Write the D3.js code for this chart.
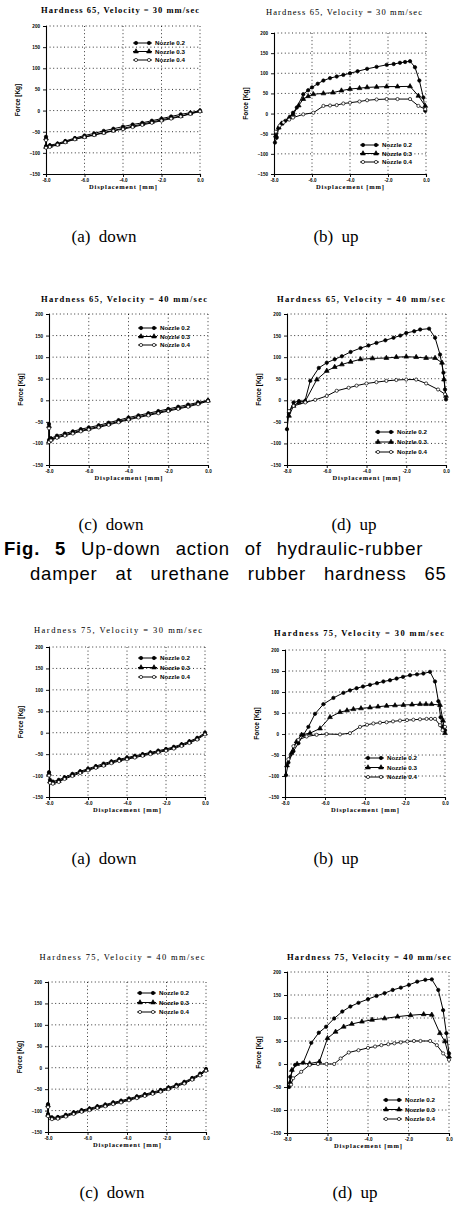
<!DOCTYPE html>
<html><head><meta charset="utf-8">
<script src="https://cdn.jsdelivr.net/npm/d3@7/dist/d3.min.js"></script>
<style>
html,body{margin:0;padding:0;background:#fff;}
svg{display:block;}
</style></head>
<body>
<svg id="c" width="454" height="1206"></svg>
<script>
// ---------------- DATA ----------------
const xTicks = [-8, -6, -4, -2, 0];
const xTickLabels = ["-8.0", "-6.0", "-4.0", "-2.0", "0.0"];
const yTicks = [200, 150, 100, 50, 0, -50, -100, -150];
const legendLabels = ["Nozzle 0.2", "Nozzle 0.3", "Nozzle 0.4"];
const titles = [
  "Hardness 65, Velocity = 30 mm/sec", "Hardness 65, Velocity = 30 mm/sec",
  "Hardness 65, Velocity = 40 mm/sec", "Hardness 65, Velocity = 40 mm/sec",
  "Hardness 75, Velocity = 30 mm/sec", "Hardness 75, Velocity = 30 mm/sec",
  "Hardness 75, Velocity = 40 mm/sec", "Hardness 75, Velocity = 40 mm/sec"
];
const captions = ["(a) down", "(b) up", "(c) down", "(d) up", "(a) down", "(b) up", "(c) down", "(d) up"];
const figLines = ["Up-down action of hydraulic-rubber", "damper at urethane rubber hardness 65"];
const figLabel = "Fig. 5";

// Panel 1: H65 V30 down
const p1n02 = [[-8,-62],[-8,-84],[-7.8,-82],[-7.4,-78],[-7,-72],[-6.5,-65],[-6,-59],[-5.5,-54],[-5,-48],[-4.5,-43],[-4,-38],[-3.5,-33],[-3,-29],[-2.5,-24],[-2,-19],[-1.5,-14],[-1,-9],[-0.5,-5],[0,0]];
const p1n03 = [[-8,-66],[-8,-86],[-7.8,-84],[-7.4,-80],[-7,-74],[-6.5,-67],[-6,-62],[-5.5,-57],[-5,-52],[-4.5,-47],[-4,-42],[-3.5,-37],[-3,-32],[-2.5,-27],[-2,-22],[-1.5,-17],[-1,-13],[-0.5,-7],[0,-1]];
const p1n04 = [[-8,-70],[-8,-88],[-7.8,-86],[-7.4,-81],[-7,-75],[-6.5,-68],[-6,-63],[-5.5,-58],[-5,-53],[-4.5,-48],[-4,-44],[-3.5,-39],[-3,-34],[-2.5,-29],[-2,-24],[-1.5,-19],[-1,-14],[-0.5,-8],[0,-2]];
// Panel 2: H65 V30 up
const p2n02 = [[-7.95,-72],[-7.86,-60],[-7.75,-35],[-7.6,-25],[-7.4,-18],[-7,2],[-6.8,15],[-6.46,48],[-6.2,58],[-6,65],[-5.7,74],[-5.4,82],[-5.05,88],[-4.7,92],[-4.35,96],[-4,100],[-3.6,105],[-3.1,111],[-2.6,116],[-2.07,121],[-1.7,123],[-1.37,126],[-1.1,128],[-0.84,130],[-0.58,115],[-0.35,82],[-0.14,40],[-0.04,7]];
const p2n03 = [[-7.9,-55],[-7.75,-35],[-7.6,-25],[-7.2,-10],[-7,-2],[-6.7,20],[-6.46,36],[-6.2,43],[-5.93,48],[-5.4,50],[-4.9,52],[-4.45,57],[-4,61],[-3.5,63],[-3.1,65],[-2.6,66],[-2.07,67],[-1.5,67],[-0.84,67.5],[-0.4,44],[-0.04,19]];
const p2n04 = [[-7.9,-45],[-7.7,-30],[-7.5,-22],[-7.2,-15],[-7,-10],[-6.46,-2],[-5.93,2],[-5.4,19],[-5.05,20],[-4.7,21],[-4.35,25],[-4,27],[-3.5,30],[-3.1,33],[-2.6,35],[-2.07,36],[-1.5,36],[-0.84,36],[-0.4,19],[-0.04,11]];
// Panel 3: H65 V40 down
const p3n02 = [[-8,-55],[-8,-92],[-7.9,-88],[-7.6,-82],[-7.2,-77],[-6.8,-72],[-6.4,-67],[-6,-63],[-5.5,-58],[-5,-52],[-4.5,-46],[-4,-40],[-3.5,-35],[-3,-30],[-2.5,-25],[-2,-20],[-1.5,-15],[-1,-10],[-0.5,-5],[0,0]];
const p3n03 = [[-8,-60],[-8,-95],[-7.9,-91],[-7.6,-85],[-7.2,-80],[-6.8,-75],[-6.4,-70],[-6,-66],[-5.5,-61],[-5,-55],[-4.5,-49],[-4,-43],[-3.5,-38],[-3,-33],[-2.5,-28],[-2,-23],[-1.5,-18],[-1,-13],[-0.5,-7],[0,-1]];
const p3n04 = [[-8,-65],[-8,-97],[-7.9,-93],[-7.6,-87],[-7.2,-82],[-6.8,-77],[-6.4,-72],[-6,-68],[-5.5,-63],[-5,-57],[-4.5,-51],[-4,-45],[-3.5,-40],[-3,-35],[-2.5,-30],[-2,-25],[-1.5,-20],[-1,-15],[-0.5,-9],[0,-2]];
// Panel 4: H65 V40 up
const p4n02 = [[-8,-67],[-7.9,-28],[-7.67,-5],[-7.4,-2],[-7.1,-2],[-6.83,45],[-6.4,75],[-6,87],[-5.6,95],[-5.24,102],[-4.8,112],[-4.3,121],[-3.9,127],[-3.5,133],[-3.05,139],[-2.64,145],[-2.3,150],[-2,156],[-1.6,160],[-1.3,164],[-0.85,166],[-0.55,145],[-0.3,106],[-0.13,64],[-0.05,25],[0,2]];
const p4n03 = [[-7.9,-36],[-7.67,-13],[-7.4,-5],[-7.08,-2],[-6.5,48],[-6,68],[-5.6,77],[-5.24,83],[-4.8,89],[-4.3,95],[-3.7,97],[-3,98],[-2.5,100],[-2,101],[-1.5,100],[-1,98],[-0.55,98],[-0.2,87],[-0.1,48],[0,10]];
const p4n04 = [[-7.9,-25],[-7.67,-13],[-7.08,-5],[-6.58,1],[-6,10],[-5.5,22],[-4.9,29],[-4.5,34],[-4,39],[-3.5,42],[-3,45],[-2.5,47],[-2,48],[-1.5,48],[-1,39],[-0.4,25],[-0.05,14]];
// Panel 5: H75 V30 down
const p5n02 = [[-8,-92],[-7.95,-110],[-7.8,-114],[-7.5,-110],[-7.2,-104],[-6.8,-96],[-6.4,-90],[-6,-84],[-5.6,-78],[-5.2,-72],[-4.8,-67],[-4.4,-62],[-4,-58],[-3.6,-54],[-3.2,-50],[-2.8,-46],[-2.4,-42],[-2,-38],[-1.6,-33],[-1.2,-27],[-0.8,-20],[-0.4,-12],[0,0]];
const p5n03 = [[-8,-96],[-7.95,-114],[-7.8,-117],[-7.5,-113],[-7.2,-106],[-6.8,-99],[-6.4,-92],[-6,-86],[-5.6,-80],[-5.2,-75],[-4.8,-69],[-4.4,-64],[-4,-60],[-3.6,-56],[-3.2,-52],[-2.8,-48],[-2.4,-44],[-2,-40],[-1.6,-35],[-1.2,-29],[-0.8,-22],[-0.4,-14],[0,-2]];
const p5n04 = [[-8,-100],[-7.95,-117],[-7.8,-119],[-7.5,-115],[-7.2,-108],[-6.8,-101],[-6.4,-94],[-6,-88],[-5.6,-82],[-5.2,-77],[-4.8,-71],[-4.4,-66],[-4,-62],[-3.6,-58],[-3.2,-54],[-2.8,-50],[-2.4,-46],[-2,-42],[-1.6,-37],[-1.2,-31],[-0.8,-24],[-0.4,-16],[0,-4]];
// Panel 6: H75 V30 up
const p6n02 = [[-7.95,-98],[-7.83,-68],[-7.58,-41],[-7.33,-22],[-7.08,-2],[-6.83,17],[-6.5,48],[-6.08,71],[-5.58,86],[-5.08,98],[-4.75,104],[-4.42,109],[-4.1,113],[-3.75,117],[-3.4,121],[-3.08,125],[-2.75,128],[-2.42,132],[-2.1,136],[-1.75,140],[-1.4,142],[-1.08,144],[-0.75,148],[-0.5,125],[-0.33,78],[-0.22,40],[-0.12,17],[0,9]];
const p6n03 = [[-7.9,-75],[-7.67,-45],[-7.42,-18],[-7.17,-2],[-6.75,2],[-6.25,13],[-5.75,40],[-5.25,52],[-4.9,56],[-4.58,59],[-4.2,61],[-3.75,63],[-3.35,65],[-2.92,67],[-2.5,68],[-2.08,69],[-1.65,70],[-1.25,71],[-0.95,71],[-0.67,71],[-0.25,69],[-0.1,32],[0,2]];
const p6n04 = [[-7.83,-60],[-7.58,-29],[-7.33,-14],[-6.92,-6],[-6.42,-2],[-5.92,0],[-5.25,-1],[-4.75,2],[-4.25,17],[-3.9,22],[-3.58,25],[-3.25,27],[-2.92,28],[-2.6,30],[-2.25,32],[-1.9,33],[-1.58,34],[-1.25,35],[-0.92,36],[-0.7,36],[-0.5,36],[-0.25,21],[-0.12,9],[0,17]];
// Panel 7: H75 V40 down
const p7n02 = [[-8,-85],[-8,-108],[-7.8,-116],[-7.5,-115],[-7.1,-110],[-6.7,-104],[-6.3,-99],[-5.9,-95],[-5.5,-90],[-5.1,-86],[-4.7,-81],[-4.3,-77],[-3.9,-72],[-3.5,-67],[-3.1,-62],[-2.7,-57],[-2.3,-52],[-1.9,-46],[-1.5,-40],[-1.1,-33],[-0.7,-24],[-0.3,-14],[0,-3]];
const p7n03 = [[-8,-88],[-8,-110],[-7.8,-118],[-7.5,-117],[-7.1,-112],[-6.7,-106],[-6.3,-101],[-5.9,-97],[-5.5,-92],[-5.1,-88],[-4.7,-83],[-4.3,-79],[-3.9,-74],[-3.5,-69],[-3.1,-64],[-2.7,-59],[-2.3,-54],[-1.9,-48],[-1.5,-42],[-1.1,-35],[-0.7,-26],[-0.3,-16],[0,-5]];
const p7n04 = [[-8,-92],[-8,-113],[-7.8,-120],[-7.5,-119],[-7.1,-114],[-6.7,-108],[-6.3,-103],[-5.9,-99],[-5.5,-94],[-5.1,-90],[-4.7,-85],[-4.3,-81],[-3.9,-76],[-3.5,-71],[-3.1,-66],[-2.7,-61],[-2.3,-56],[-1.9,-50],[-1.5,-44],[-1.1,-37],[-0.7,-28],[-0.3,-18],[0,-7]];
// Panel 8: H75 V40 up
const p8n02 = [[-7.9,-50],[-7.84,-28],[-7.6,-2],[-7.2,3],[-6.8,46],[-6.43,68],[-6.07,81],[-5.67,99],[-5.27,114],[-4.87,125],[-4.47,133],[-4,141],[-3.58,148],[-3.18,154],[-2.78,161],[-2.38,166],[-1.98,172],[-1.57,179],[-1.17,183],[-0.85,184],[-0.53,161],[-0.29,117],[-0.13,67],[0,23]];
const p8n03 = [[-7.85,-40],[-7.76,-13],[-7.5,0],[-6.88,1],[-6.4,5],[-6,56],[-5.6,70],[-5.2,81],[-4.8,87],[-4.3,92],[-3.8,96],[-3.18,99],[-2.54,103],[-1.9,106],[-1.25,108],[-0.85,107],[-0.45,67],[-0.2,49],[0,16]];
const p8n04 = [[-7.8,-45],[-7.7,-31],[-7.3,-17],[-6.88,-2],[-6.47,0],[-6.05,0],[-5.67,0],[-5.35,12],[-4.95,25],[-4.47,30],[-4,35],[-3.65,38],[-3.34,41],[-3,43],[-2.7,45],[-2.38,47],[-2.06,49],[-1.73,50],[-1.41,50],[-0.93,50],[-0.6,41],[-0.29,23],[0,9]];

const panelSeries = [
  [p1n02, p1n03, p1n04], [p2n02, p2n03, p2n04],
  [p3n02, p3n03, p3n04], [p4n02, p4n03, p4n04],
  [p5n02, p5n03, p5n04], [p6n02, p6n03, p6n04],
  [p7n02, p7n03, p7n04], [p8n02, p8n03, p8n04]
];

// ---------------- LAYOUT ----------------
const layout = [
  {x0:46, x1:200, y0:26, y1:174, ty:13, tx:120, tw:158, bold:true, leg:[133,43,8.5]},
  {x0:274,x1:426, y0:33, y1:174, ty:15, tx:344, tw:156, bold:false, leg:[360,145,8.5]},
  {x0:49, x1:208, y0:314,y1:465, ty:302,tx:124, tw:166, bold:true, leg:[138,328,8.5]},
  {x0:287,x1:446, y0:314,y1:465, ty:302,tx:361, tw:168, bold:true, leg:[375,432,10]},
  {x0:49, x1:205, y0:647,y1:797, ty:633,tx:118, tw:168, bold:false, leg:[138,658,9.5]},
  {x0:285,x1:445, y0:650,y1:797, ty:636,tx:359, tw:170, bold:true, leg:[365,758,9.5]},
  {x0:48, x1:206, y0:982,y1:1132,ty:960,tx:122, tw:165, bold:false, leg:[137,993,9.5]},
  {x0:287,x1:449, y0:972,y1:1133,ty:960,tx:369, tw:164, bold:true, leg:[383,1100,9.5]}
];
const capPos = [[104,242],[336,242],[111,530],[354,530],[104,864],[336,864],[112,1198],[355,1198]];

const svg = d3.select("#c");
const symbols = [d3.symbolCircle, d3.symbolTriangle, d3.symbolCircle];
const symSize = [9, 10, 8];
const symFill = ["#000", "#000", "#fff"];

function drawPanel(i) {
  const L = layout[i];
  const g = svg.append("g");
  const x = d3.scaleLinear().domain([-8, 0]).range([L.x0, L.x1]);
  const y = d3.scaleLinear().domain([-150, 200]).range([L.y1, L.y0]);

  g.selectAll(".gy").data(yTicks.filter(v => v > -150)).enter().append("line")
    .attr("x1", L.x0).attr("x2", L.x1).attr("y1", d => y(d)).attr("y2", d => y(d))
    .attr("stroke", "#000").attr("stroke-width", 0.8).attr("stroke-dasharray", "1,2.6");
  g.selectAll(".gx").data(xTicks.filter(v => v > -8)).enter().append("line")
    .attr("y1", L.y0).attr("y2", L.y1).attr("x1", d => x(d)).attr("x2", d => x(d))
    .attr("stroke", "#000").attr("stroke-width", 0.8).attr("stroke-dasharray", "1,2.6");

  const ya = d3.axisLeft(y).tickValues(yTicks).tickSize(3).tickFormat(d3.format("d"));
  const yMinor = d3.axisLeft(y).tickValues(d3.range(-150, 201, 25)).tickSize(1.5).tickFormat("");
  const xa = d3.axisBottom(x).tickValues(xTicks).tickSize(3).tickFormat((d, k) => xTickLabels[k]);
  const xMinor = d3.axisBottom(x).tickValues(d3.range(-8, 0.01, 1)).tickSize(1.5).tickFormat("");
  const ag = g.append("g").attr("transform", `translate(${L.x0},0)`);
  ag.call(yMinor); ag.call(ya);
  const bg = g.append("g").attr("transform", `translate(0,${L.y1})`);
  bg.call(xMinor); bg.call(xa);
  [ag, bg].forEach(a => {
    a.selectAll("path").attr("stroke", "#000").attr("stroke-width", 1.1);
    a.selectAll("line").attr("stroke", "#000").attr("stroke-width", 0.9);
    a.selectAll("text").attr("font-family", "Liberation Sans, Arial, sans-serif")
      .attr("font-size", 4.6).attr("font-weight", "bold").attr("fill", "#000");
  });
  ag.selectAll("text").attr("x", -6);
  bg.selectAll("text").attr("y", 5);

  const line = d3.line().x(d => x(d[0])).y(d => y(d[1]));
  panelSeries[i].forEach((s, k) => {
    g.append("path").datum(s).attr("d", line).attr("fill", "none")
      .attr("stroke", "#000").attr("stroke-width", 1);
    g.selectAll(null).data(s).enter().append("path")
      .attr("transform", d => `translate(${x(d[0])},${y(d[1])})`)
      .attr("d", d3.symbol().type(symbols[k]).size(symSize[k]))
      .attr("fill", symFill[k]).attr("stroke", "#000").attr("stroke-width", 0.7);
  });

  const [lx, ly, lh] = L.leg;
  legendLabels.forEach((lab, k) => {
    const yy = ly + k * lh;
    g.append("line").attr("x1", lx).attr("x2", lx + 19).attr("y1", yy).attr("y2", yy)
      .attr("stroke", "#000").attr("stroke-width", 1);
    [lx + 3, lx + 16].forEach(px => g.append("path")
      .attr("transform", `translate(${px},${yy})`)
      .attr("d", d3.symbol().type(symbols[k]).size(symSize[k]))
      .attr("fill", symFill[k]).attr("stroke", "#000").attr("stroke-width", 0.7));
    g.append("text").attr("x", lx + 22).attr("y", yy + 2.2).text(lab)
      .attr("font-family", "Liberation Sans, Arial, sans-serif").attr("font-weight", "bold")
      .attr("font-size", 6.2).attr("fill", "#000");
  });

  g.append("text").attr("x", L.tx).attr("y", L.ty).attr("text-anchor", "middle")
    .attr("font-family", "Liberation Serif, Times New Roman, serif")
    .attr("font-weight", L.bold ? "bold" : "normal").attr("font-size", 8.5)
    .attr("textLength", L.tw).attr("lengthAdjust", "spacing").text(titles[i]);
  g.append("text").attr("x", (L.x0 + L.x1) / 2).attr("y", L.y1 + 15).attr("text-anchor", "middle")
    .attr("font-family", "Liberation Serif, Times New Roman, serif").attr("font-weight", "bold")
    .attr("font-size", 6.5).attr("textLength", 68).attr("lengthAdjust", "spacing")
    .text("Displacement [mm]");
  g.append("text").attr("transform", `translate(${L.x0 - 26},${(L.y0 + L.y1) / 2}) rotate(-90)`)
    .attr("text-anchor", "middle").attr("font-family", "Liberation Sans, Arial, sans-serif")
    .attr("font-weight", "bold").attr("font-size", 6.5).text("Force [Kg]");

  svg.append("text").attr("x", capPos[i][0]).attr("y", capPos[i][1]).attr("text-anchor", "middle")
    .attr("font-family", "Liberation Serif, Times New Roman, serif").attr("font-size", 17)
    .attr("word-spacing", 4).text(captions[i]);
}
for (let i = 0; i < 8; i++) drawPanel(i);

// figure caption
const f1 = svg.append("text").attr("x", 4).attr("y", 555)
  .attr("font-family", "Liberation Sans, Arial, sans-serif").attr("font-size", 18.5)
  .attr("letter-spacing", 0.8).attr("word-spacing", 9);
f1.append("tspan").attr("font-weight", "bold").text(figLabel);
f1.append("tspan").text(" " + figLines[0]);
svg.append("text").attr("x", 30).attr("y", 580)
  .attr("font-family", "Liberation Sans, Arial, sans-serif").attr("font-size", 18.5)
  .attr("letter-spacing", 0.8).attr("word-spacing", 12).text(figLines[1]);
</script>
</body></html>
